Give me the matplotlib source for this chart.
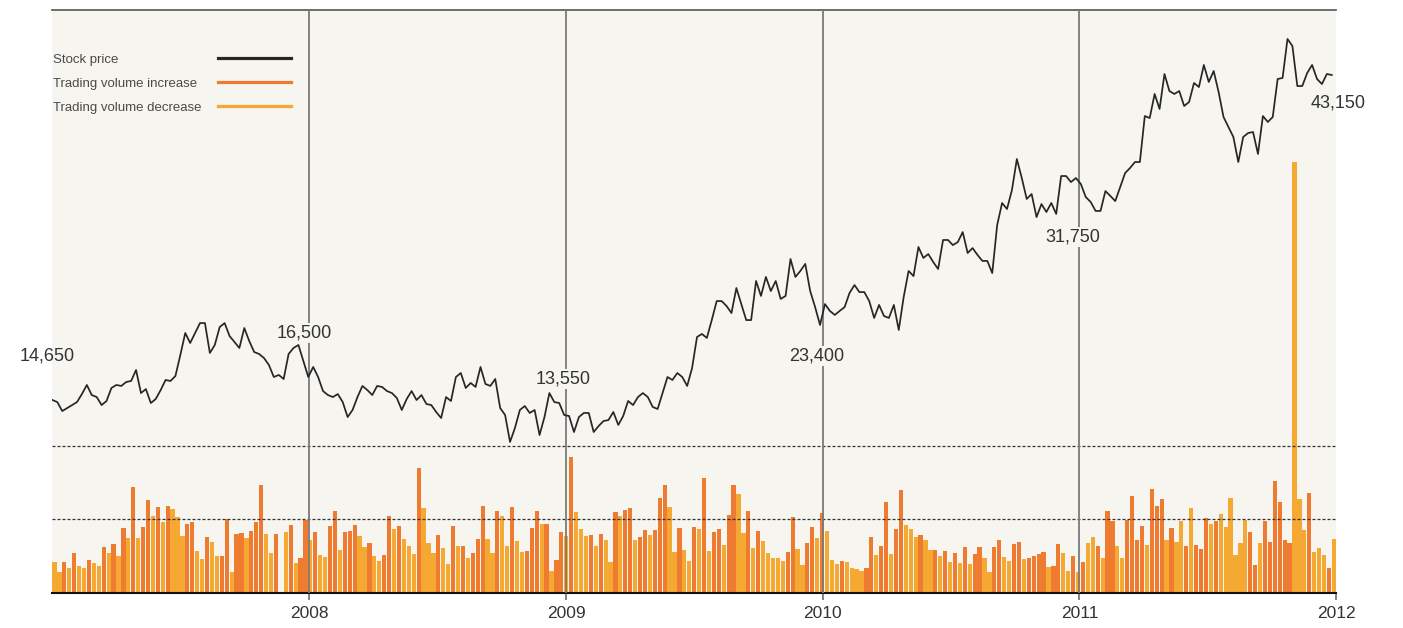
import numpy as np
import pandas as pd
import matplotlib
matplotlib.use("Agg")
import matplotlib.pyplot as plt
from matplotlib.lines import Line2D

plt.rcParams["font.family"] = ["Liberation Sans", "DejaVu Sans"]

# ---------------------------------------------------------------- data
# Weekly closing price, one list per calendar year (week starting Monday)
price_2007 = [14650, 14500, 13840, 14060, 14280, 14500, 15130, 15860, 15050, 14890,
              14280, 14580, 15620, 15860, 15780, 16100, 16180, 17430, 15210, 15530,
              14430, 14730, 15450, 16260, 16180, 16630, 19420, 22340, 21010, 22340,
              23510, 23510, 19690, 20750, 23130, 23510, 21940, 21150, 20350, 23000,
              21280, 19820, 19550, 19020, 18090, 16500, 16770, 16340, 19550, 20350,
              20750, 18620, 16500]
price_2008 = [17830, 16500, 15370, 15050, 14890, 15130, 14500, 13400, 13920, 14890,
              15780, 15450, 15050, 15780, 15700, 15370, 15210, 14810, 13920, 14730,
              15370, 14650, 15050, 14360, 14280, 13770, 13330, 14890, 14580, 16500,
              17030, 15620, 16020, 15700, 17830, 15940, 15780, 16340, 14060, 13550,
              11570, 12600, 13920, 14210, 13700, 13920, 12080, 13400, 15210, 14500,
              14430, 13550]
price_2009 = [13480, 12300, 13400, 13700, 13700, 12300, 12740, 13110, 13180, 13770,
              12820, 13480, 14580, 14280, 14890, 15210, 14890, 14140, 13990, 15210,
              16500, 16260, 17030, 16500, 15780, 17690, 21810, 22210, 21680, 23680,
              24760, 24760, 24480, 24080, 25500, 24590, 23680, 23680, 25900, 25050,
              26130, 25330, 25900, 24880, 25050, 27150, 26130, 26470, 26870, 25330,
              24420, 23400]
price_2010 = [24590, 24200, 23970, 24200, 24420, 25220, 25670, 25270, 25270, 24760,
              23800, 24540, 23910, 23800, 24540, 22740, 24990, 26470, 26180, 27830,
              27210, 27430, 26980, 26580, 28230, 28230, 27940, 28110, 28680, 27490,
              27770, 27380, 27040, 27040, 26350, 29080, 30330, 29990, 31070, 33850,
              31750, 30560, 30840, 29530, 30270, 29820, 30330, 29710, 31970, 31970,
              31520, 31750]
price_2011 = [31410, 30670, 30390, 29880, 29880, 31010, 30730, 30440, 31240, 32300,
              32860, 33520, 33520, 38610, 38390, 41050, 39390, 43260, 41380, 41050,
              41380, 39720, 40160, 42270, 41820, 44260, 42380, 43590, 41270, 38500,
              37400, 36290, 33520, 36290, 36730, 36840, 34410, 38610, 37950, 38500,
              42710, 42820, 47140, 46360, 41930, 41930, 43370, 44260, 42710, 42150,
              43260, 43150]

# Weekly trading volume (millions of shares)
volume_2007 = [4.2, 2.9, 4.2, 3.4, 5.4, 3.7, 3.4, 4.5, 4.1, 3.7,
               6.2, 5.4, 6.7, 5.0, 8.8, 7.5, 14.4, 7.5, 9.0, 12.6,
               10.5, 11.7, 9.6, 11.8, 11.4, 10.3, 7.7, 9.4, 9.6, 5.7,
               4.6, 7.6, 6.9, 5.0, 5.1, 10.0, 2.9, 8.0, 8.1, 7.5,
               8.4, 9.6, 14.7, 8.0, 5.4, 8.0, 0.0, 8.3, 9.2, 4.1,
               4.8, 9.9, 7.2]
volume_2008 = [8.3, 5.2, 4.9, 9.1, 11.1, 5.8, 8.3, 8.4, 9.2, 7.7,
               6.2, 6.8, 5.0, 4.3, 5.2, 10.5, 8.7, 9.1, 7.3, 6.4,
               5.3, 17.0, 11.5, 6.8, 5.4, 7.9, 6.1, 3.9, 9.1, 6.4,
               6.4, 4.8, 5.4, 7.3, 11.9, 7.3, 5.4, 11.1, 10.5, 6.4,
               11.7, 7.1, 5.6, 5.7, 8.8, 11.1, 9.4, 9.4, 3.0, 4.5,
               8.3, 7.7]
volume_2009 = [18.5, 11.0, 8.7, 7.7, 7.9, 6.4, 8.0, 7.2, 4.2, 11.0,
               10.5, 11.3, 11.5, 7.2, 7.6, 8.6, 7.9, 8.6, 12.9, 14.7,
               11.7, 5.6, 8.8, 5.8, 4.3, 9.0, 8.7, 15.6, 5.7, 8.3,
               8.7, 6.5, 10.6, 14.7, 13.4, 8.1, 11.1, 6.1, 8.4, 7.1,
               5.4, 4.8, 4.7, 4.3, 5.6, 10.3, 6.0, 3.8, 6.8, 9.0,
               7.5, 10.9]
volume_2010 = [8.4, 4.5, 3.9, 4.3, 4.2, 3.4, 3.3, 3.0, 3.4, 7.6,
               5.2, 6.4, 12.4, 5.3, 8.7, 14.0, 9.2, 8.7, 7.6, 7.9,
               7.2, 5.8, 5.9, 5.0, 5.7, 4.2, 5.4, 4.1, 6.2, 3.9,
               5.3, 6.2, 4.8, 2.9, 6.2, 7.2, 4.9, 4.3, 6.7, 6.9,
               4.6, 4.8, 5.0, 5.3, 5.6, 3.5, 3.7, 6.7, 5.4, 3.0,
               5.0, 2.9]
volume_2011 = [4.2, 6.8, 7.6, 6.4, 4.8, 11.1, 9.8, 6.4, 4.8, 9.9,
               13.2, 7.2, 9.1, 6.5, 14.1, 11.9, 12.8, 7.2, 8.8, 6.9,
               9.8, 6.4, 11.5, 6.5, 6.0, 10.2, 9.4, 9.8, 10.7, 9.0,
               12.9, 5.2, 6.8, 9.9, 8.3, 3.8, 6.8, 9.8, 6.9, 15.3,
               12.4, 7.2, 6.8, 58.6, 12.8, 8.6, 13.6, 5.6, 6.1, 5.2,
               3.4, 7.3]

# 1 = trading volume increase, 0 = trading volume decrease
volume_up_2007 = [0, 0, 1, 0, 1, 0, 0, 1, 0, 0,
                  1, 0, 1, 0, 1, 0, 1, 0, 1, 1,
                  0, 1, 0, 1, 0, 0, 0, 1, 1, 0,
                  0, 1, 0, 0, 1, 1, 0, 1, 1, 0,
                  1, 1, 1, 0, 0, 1, 0, 0, 1, 0,
                  1, 1, 0]
volume_up_2008 = [1, 0, 0, 1, 1, 0, 1, 1, 1, 0,
                  0, 1, 0, 0, 1, 1, 0, 1, 0, 0,
                  0, 1, 0, 0, 0, 1, 0, 0, 1, 0,
                  1, 0, 1, 1, 1, 0, 0, 1, 0, 0,
                  1, 0, 0, 1, 1, 1, 0, 1, 0, 1,
                  1, 0]
volume_up_2009 = [1, 0, 0, 0, 1, 0, 1, 0, 0, 1,
                  0, 1, 1, 0, 1, 1, 0, 1, 1, 1,
                  0, 0, 1, 0, 0, 1, 0, 1, 0, 1,
                  1, 0, 1, 1, 0, 0, 1, 0, 1, 0,
                  0, 0, 0, 0, 1, 1, 0, 0, 1, 1,
                  0, 1]
volume_up_2010 = [0, 0, 0, 1, 0, 0, 0, 0, 1, 1,
                  0, 1, 1, 0, 1, 1, 0, 0, 0, 1,
                  0, 0, 1, 0, 1, 0, 1, 0, 1, 0,
                  1, 1, 0, 0, 1, 1, 0, 0, 1, 1,
                  0, 1, 1, 1, 1, 0, 1, 1, 0, 0,
                  1, 0]
volume_up_2011 = [1, 0, 0, 1, 0, 1, 1, 0, 0, 1,
                  1, 1, 1, 0, 1, 1, 1, 0, 1, 0,
                  0, 1, 0, 1, 1, 1, 0, 1, 0, 0,
                  0, 0, 0, 0, 1, 1, 0, 1, 1, 1,
                  1, 1, 1, 0, 0, 0, 1, 0, 0, 0,
                  1, 0]

year_ticks = [2008, 2009, 2010, 2011, 2012]
legend_labels = ["Stock price", "Trading volume increase", "Trading volume decrease"]

price = np.array(price_2007 + price_2008 + price_2009 + price_2010 + price_2011, float)
volume = np.array(volume_2007 + volume_2008 + volume_2009 + volume_2010 + volume_2011)
volume_up = np.array(volume_up_2007 + volume_up_2008 + volume_up_2009
                     + volume_up_2010 + volume_up_2011, bool)
weeks = pd.date_range("2007-01-01", periods=len(price), freq="7D")

# ---------------------------------------------------------------- style
BG = "#f6f5ef"
INK = "#262626"
ORANGE = "#ee7b30"
YELLOW = "#f5a832"
GRID = "#7a7a7a"
W, H = 1403, 628

# Price axis: piecewise-linear display scale through the annotated closes
scale_prices = np.array([13550, 14650, 16500, 23400, 31750, 43150], float)
scale_levels = np.array([0.3053, 0.3310, 0.3705, 0.4597, 0.7118, 0.8885])
lo_slope = (scale_levels[1] - scale_levels[0]) / (scale_prices[1] - scale_prices[0])
hi_slope = (scale_levels[-1] - scale_levels[-2]) / (scale_prices[-1] - scale_prices[-2])
knot_p = np.r_[0.0, scale_prices, 80000.0]
knot_l = np.r_[scale_levels[0] - lo_slope * scale_prices[0], scale_levels,
               scale_levels[-1] + hi_slope * (80000.0 - scale_prices[-1])]


def price_forward(p):
    return np.interp(p, knot_p, knot_l)


def price_inverse(v):
    return np.interp(v, knot_l, knot_p)


fig = plt.figure(figsize=(W / 100, H / 100), dpi=100)
ax = fig.add_axes([52.4 / W, 35 / H, 1283.6 / W, 583 / H])
ax.set_facecolor(BG)

# volume bars
ax.bar(weeks, volume, width=6.0, align="edge",
       color=np.where(volume_up, ORANGE, YELLOW), linewidth=0, zorder=2)
ax.set_xlim(pd.Timestamp("2007-01-01"), pd.Timestamp("2012-01-01"))
ax.set_ylim(0, 79.3)
for level in (10, 20):
    ax.axhline(level, color="#333333", lw=0.9, ls=(0, (2.4, 1.6)), zorder=3)

# year gridlines
for y in year_ticks[:-1]:
    ax.axvline(pd.Timestamp(f"{y}-01-01"), color=GRID, lw=1.3, zorder=3)

ax.set_xticks([pd.Timestamp(f"{y}-01-01") for y in year_ticks])
ax.set_xticklabels([str(y) for y in year_ticks])
ax.tick_params(axis="x", length=5, width=1.3, color=GRID, pad=4,
               labelsize=12.5, labelcolor="#333333")
for side in ("left", "right"):
    ax.spines[side].set_visible(False)
ax.spines["top"].set_color("#555555")
ax.spines["top"].set_linewidth(1.2)
ax.spines["bottom"].set_color("#111111")
ax.spines["bottom"].set_linewidth(1.5)

# price line
axp = ax.twinx()
axp.set_yscale("function", functions=(price_forward, price_inverse))
axp.set_ylim(price_inverse(0.0), price_inverse(1.0))
axp.plot(weeks, price, color=INK, lw=1.25, zorder=4)
axp.yaxis.set_major_locator(matplotlib.ticker.NullLocator())
axp.yaxis.set_minor_locator(matplotlib.ticker.NullLocator())
for s in axp.spines.values():
    s.set_visible(False)
ax.yaxis.set_major_locator(matplotlib.ticker.NullLocator())
ax.tick_params(axis="y", left=False, right=False, labelleft=False, labelright=False)

# closing price at the first week of each year
label_idx = [0] + [int(np.searchsorted(weeks, pd.Timestamp(f"{y}-01-01"))) - 1
                   for y in year_ticks]
label_offsets = [(-5, 44), (-4, 44), (-1, 36), (-3, -31), (-3, -59), (6, -28)]
for n, (i, (dx, dy)) in enumerate(zip(label_idx, label_offsets)):
    on_gridline = 0 < n < len(label_idx) - 1
    axp.annotate(f"{int(price[i]):,}", (weeks[i], price[i]), xytext=(dx, dy),
                 textcoords="offset pixels", ha="center", va="center",
                 fontsize=13, color="#333333", zorder=6, annotation_clip=False,
                 bbox=dict(boxstyle="square,pad=0.1", fc=BG, ec="none")
                 if on_gridline else None)

# legend
legend_colors = [INK, ORANGE, YELLOW]
for k, (lab, col) in enumerate(zip(legend_labels, legend_colors)):
    yf = 1 - (58 + 24 * k) / H
    fig.text(53 / W, yf, lab, fontsize=9.5, color="#4a4a4a", ha="left",
             va="center_baseline")
    fig.add_artist(Line2D([218 / W, 291 / W], [yf, yf], color=col, lw=2.3,
                          transform=fig.transFigure))

fig.savefig("out.png", dpi=100)
